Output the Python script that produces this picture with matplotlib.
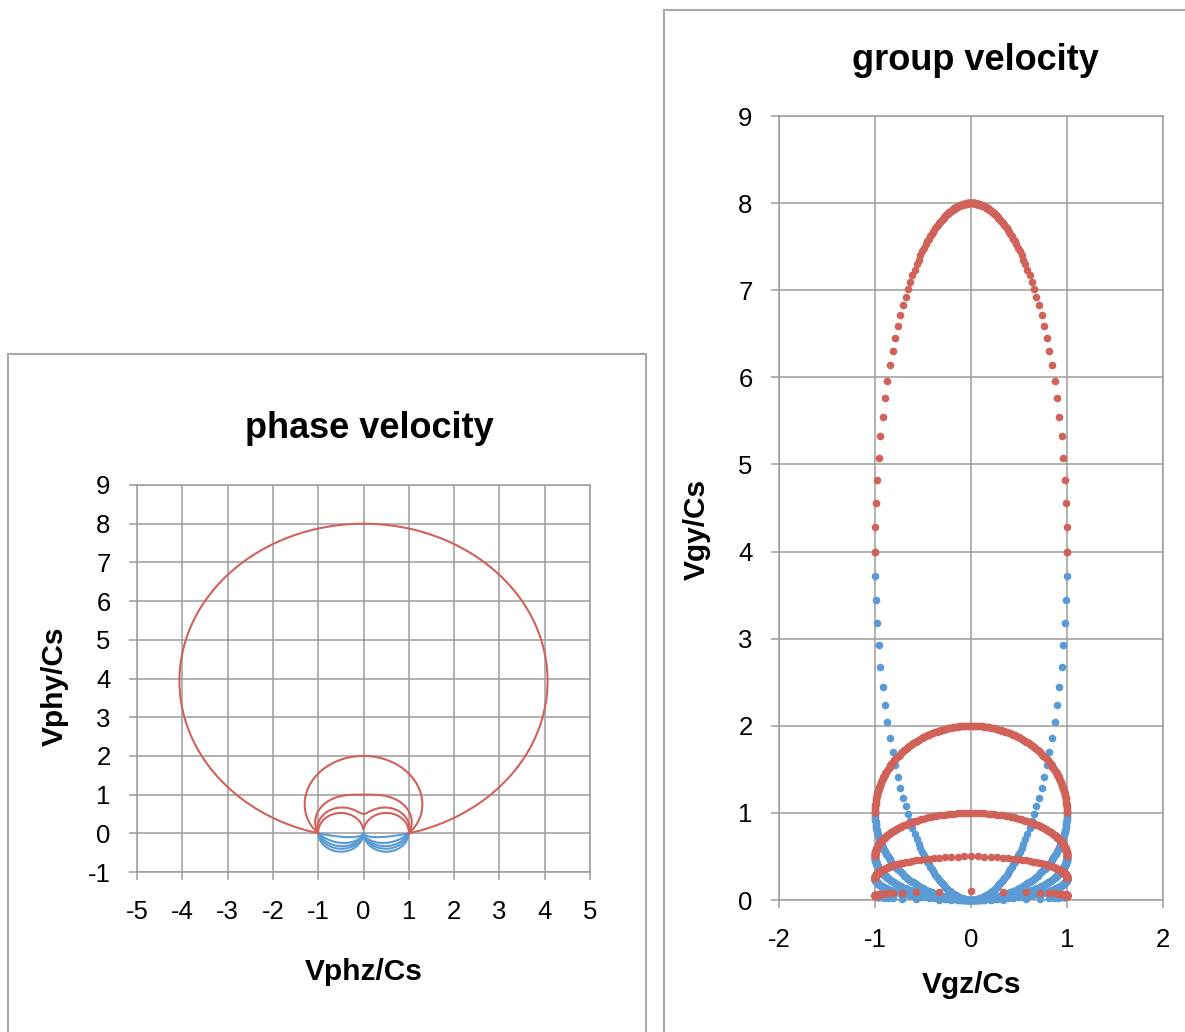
import numpy as np
import matplotlib
matplotlib.use("Agg")
import matplotlib.pyplot as plt
from matplotlib.patches import Rectangle

plt.rcParams['font.family'] = ['Liberation Sans', 'DejaVu Sans']

# ---------------- data ----------------
# Height (Vgy/Cs at Vgz = 0) of each group-velocity loop; every loop spans Vgz/Cs = -1..1
loop_heights = [8, 2, 1, 0.5, 0.1]
# spacing of the dots along the curves, in degrees of wave-vector angle
angle_step_deg = 1

phase_xticks = [-5, -4, -3, -2, -1, 0, 1, 2, 3, 4, 5]
phase_yticks = [-1, 0, 1, 2, 3, 4, 5, 6, 7, 8, 9]
group_xticks = [-2, -1, 0, 1, 2]
group_yticks = [0, 1, 2, 3, 4, 5, 6, 7, 8, 9]

RED = "#D0625A"
BLUE = "#5B9BD5"
GRID = "#9C9C9C"

# ---------------- figure ----------------
W, H = 1185, 1032
fig = plt.figure(figsize=(W / 100, H / 100), dpi=100)


def fx(px):
    return px / W


def fy(py):
    return 1 - py / H


# chart-area borders
fig.patches.append(Rectangle((fx(8), fy(1040)), fx(646) - fx(8), fy(354) - fy(1040),
                             transform=fig.transFigure, fill=False, ec="#A8A8A8", lw=1.5))
fig.patches.append(Rectangle((fx(664), fy(1040)), fx(1195) - fx(664), fy(10) - fy(1040),
                             transform=fig.transFigure, fill=False, ec="#A8A8A8", lw=1.5))

ax1 = fig.add_axes([fx(137), fy(872), fx(590) - fx(137), fy(485) - fy(872)])
ax2 = fig.add_axes([fx(779), fy(900), fx(1163) - fx(779), fy(116) - fy(900)])

step = np.deg2rad(angle_step_deg)
th_up = np.arange(0, np.pi + step / 2, step)
th_dn = np.arange(np.pi, 2 * np.pi + step / 2, step)


def curves(hgt, th):
    a = hgt / 2.0
    c, s = np.cos(th), np.sin(th)
    R = np.sqrt(c ** 2 + a ** 2 * s ** 2)
    h = a * s + R
    phase = (h * c, h * s)
    group = (c / R, a + a ** 2 * s / R)
    return phase, group


for th, col in ((th_dn, BLUE), (th_up, RED)):
    for hgt in loop_heights:
        (pz, py), (gz, gy) = curves(hgt, th)
        ax1.plot(pz, py, color=col, lw=1.5, solid_joinstyle="round")
        ax2.scatter(gz, gy, s=30, color=col, linewidths=0, clip_on=False, zorder=3)


def style(ax, xt, yt):
    ax.set_xlim(xt[0], xt[-1])
    ax.set_ylim(yt[0], yt[-1])
    ax.set_xticks(xt)
    ax.set_yticks(yt)
    ax.set_xticklabels([str(v) for v in xt])
    ax.set_yticklabels([str(v) for v in yt])
    ax.grid(True, color=GRID, lw=1.1)
    ax.set_axisbelow(True)
    for sp in ax.spines.values():
        sp.set_color(GRID)
        sp.set_linewidth(1.1)
    ax.tick_params(direction="out", length=6, width=1.1, color=GRID,
                   labelsize=18.5)
    ax.tick_params(axis="x", pad=14)
    ax.tick_params(axis="y", pad=13)


style(ax1, phase_xticks, phase_yticks)
style(ax2, group_xticks, group_yticks)

fig.text(fx(369), fy(428), "phase velocity", ha="center", va="center",
         fontsize=26, fontweight="bold")
fig.text(fx(364), fy(972), "Vphz/Cs", ha="center", va="center",
         fontsize=21.5, fontweight="bold")
fig.text(fx(55), fy(686), "Vphy/Cs", ha="center", va="center", rotation=90,
         fontsize=21.5, fontweight="bold")

fig.text(fx(975), fy(60), "group velocity", ha="center", va="center",
         fontsize=26, fontweight="bold")
fig.text(fx(972), fy(985), "Vgz/Cs", ha="center", va="center",
         fontsize=21.5, fontweight="bold")
fig.text(fx(697), fy(529), "Vgy/Cs", ha="center", va="center", rotation=90,
         fontsize=21.5, fontweight="bold")

fig.savefig("out.png", dpi=100, facecolor="white")
